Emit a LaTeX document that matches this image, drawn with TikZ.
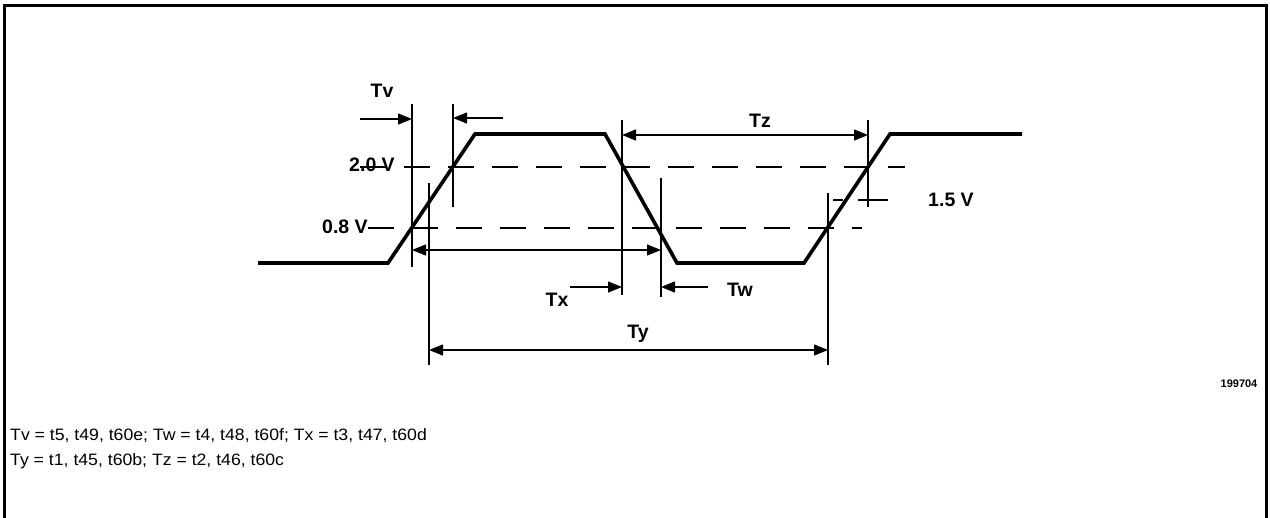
\documentclass[tikz,border=0pt]{standalone}
\usepackage{fontspec}
\setmainfont{Liberation Sans}
\usetikzlibrary{arrows.meta}
\tikzset{
  sig/.style={line width=3.6pt, line join=miter},
  thin/.style={line width=1.3pt},
  dsh/.style={line width=1.3pt, dash pattern=on 26pt off 18pt},
  arr/.style={line width=1.3pt, -{Triangle[length=14pt,width=11pt]}},
  darr/.style={line width=1.3pt, {Triangle[length=14pt,width=11pt]}-{Triangle[length=14pt,width=11pt]}},
  lbl/.style={font=\fontsize{19.5}{22}\selectfont\bfseries, inner sep=0pt},
  note/.style={font=\fontsize{16.5}{19}\selectfont, inner sep=0pt, xscale=1.07, transform shape, anchor=base west}
}
\begin{document}
\begin{tikzpicture}[x=1pt,y=-1pt]
\useasboundingbox (0,0) rectangle (1270,518);
% frame
\draw[line width=3pt] (4,518) -- (4,6) -- (1266,6) -- (1266,518);

% level labels
\node[lbl] (l20) at (372,165) {2.0 V};
\node[lbl] (l08) at (345,227) {0.8 V};
\node[lbl] (l15) at (951,200) {1.5 V};

% dashed level lines
\coordinate (d20a) at (352,167); \coordinate (d20b) at (905,167);
\coordinate (d08a) at (362,228); \coordinate (d08b) at (862,228);
\draw[dsh, dash phase=-8pt] (d20a) -- (d20b);
\draw[dsh, dash phase=-6pt] (d08a) -- (d08b);

% signal
\coordinate (s0) at (258,263);
\coordinate (s1) at (388,263);
\coordinate (s2) at (475,134);
\coordinate (s3) at (605,134);
\coordinate (s4) at (677,263);
\coordinate (s5) at (804,263);
\coordinate (s6) at (890,134);
\coordinate (s7) at (1022,134);
\draw[sig] (s0) -- (s1) -- (s2) -- (s3) -- (s4) -- (s5) -- (s6) -- (s7);

% vertical reference lines
\coordinate (v1t) at (412,104); \coordinate (v1b) at (412,267);
\coordinate (v2t) at (453,104); \coordinate (v2b) at (453,207);
\coordinate (v3t) at (429,183); \coordinate (v3b) at (429,365);
\coordinate (v4t) at (622,120); \coordinate (v4b) at (622,295);
\coordinate (v5t) at (661,178); \coordinate (v5b) at (661,297);
\coordinate (v6t) at (828,193); \coordinate (v6b) at (828,365);
\coordinate (v7t) at (868,120); \coordinate (v7b) at (868,207);
\draw[thin] (v1t) -- (v1b);
\draw[thin] (v2t) -- (v2b);
\draw[thin] (v3t) -- (v3b);
\draw[thin] (v4t) -- (v4b);
\draw[thin] (v5t) -- (v5b);
\draw[thin] (v6t) -- (v6b);
\draw[thin] (v7t) -- (v7b);

% 1.5 V ticks
\coordinate (t1a) at (833,200); \coordinate (t1b) at (843,200);
\coordinate (t2a) at (858,200); \coordinate (t2b) at (888,200);
\draw[thin] (t1a) -- (t1b);
\draw[thin] (t2a) -- (t2b);

% arrows
\coordinate (tva) at (360,119); \coordinate (tvb) at (412,119);
\draw[arr] (tva) -- (tvb);
\coordinate (ra) at (503,118); \coordinate (rb) at (453,118);
\draw[arr] (ra) -- (rb);
\coordinate (tza) at (622,135); \coordinate (tzb) at (868,135);
\draw[darr] (tza) -- (tzb);
\coordinate (ua) at (412,250); \coordinate (ub) at (661,250);
\draw[darr] (ua) -- (ub);
\coordinate (txa) at (570,287); \coordinate (txb) at (622,287);
\draw[arr] (txa) -- (txb);
\coordinate (twa) at (708,287); \coordinate (twb) at (661,287);
\draw[arr] (twa) -- (twb);
\coordinate (tya) at (429,350); \coordinate (tyb) at (828,350);
\draw[darr] (tya) -- (tyb);

% timing labels
\node[lbl] (tv) at (382,91) {Tv};
\node[lbl] (tz) at (760,121) {Tz};
\node[lbl] (tx) at (557,300) {Tx};
\node[lbl] (tw) at (740,290) {Tw};
\node[lbl] (ty) at (638,334) {Ty};

% figure number
\node[font=\fontsize{11}{12}\selectfont\bfseries, inner sep=0pt] (fig) at (1239,384) {199704};

% notes
\node[note] (n1) at (10,441) {Tv = t5, t49, t60e; Tw = t4, t48, t60f; Tx = t3, t47, t60d};
\node[note] (n2) at (10,466) {Ty = t1, t45, t60b; Tz = t2, t46, t60c};
\end{tikzpicture}
\end{document}
